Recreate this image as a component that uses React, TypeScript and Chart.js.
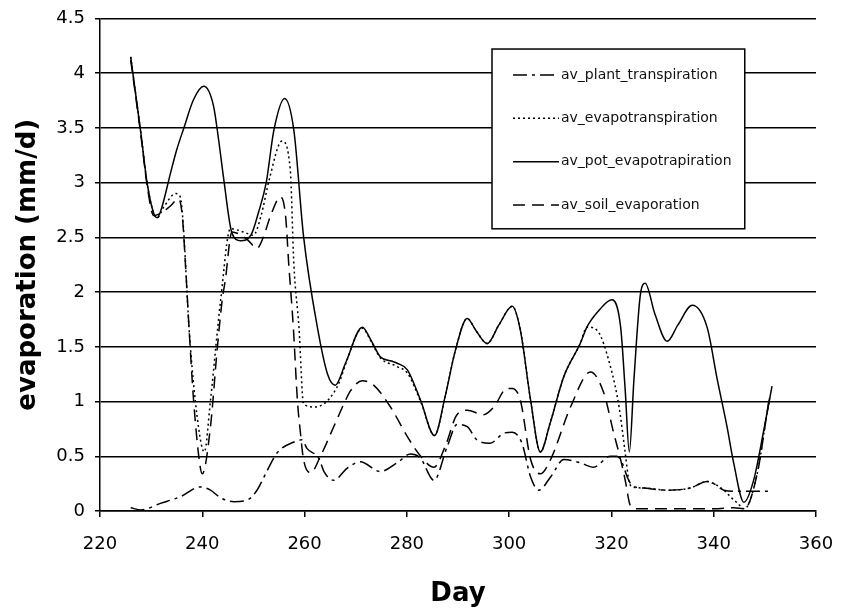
import React, { useEffect, useRef } from "react";
import { Chart, registerables } from "chart.js";

Chart.register(...registerables);

// ---- data ----
const seriesLabels = [
  "av_plant_transpiration",
  "av_evapotranspiration",
  "av_pot_evapotrapiration",
  "av_soil_evaporation",
];

const plantDays = [226, 228, 231.8, 235.7, 239.6, 241.6, 243.6, 246.2, 248.8, 250.7, 252.7, 254.6, 257.9, 259.5, 260.5, 262.8, 263.8, 265.7, 268.3, 270.9, 274.8, 278.1, 280.7, 282.7, 285.3, 287.9, 289.8, 291.8, 293.7, 296.3, 298.9, 300.6, 302.5, 304.2, 305.8, 308.1, 310.7, 313.9, 316.5, 319.8, 321.1, 322.1, 323.1, 324.1, 326.3, 330.9, 335.4, 338.7, 340, 342, 344, 350.7];
const plantValues = [0.03, 0.01, 0.07, 0.13, 0.22, 0.19, 0.12, 0.085, 0.1, 0.19, 0.37, 0.53, 0.63, 0.65, 0.57, 0.48, 0.36, 0.28, 0.39, 0.45, 0.36, 0.44, 0.52, 0.48, 0.28, 0.59, 0.79, 0.77, 0.65, 0.62, 0.71, 0.72, 0.62, 0.31, 0.19, 0.31, 0.47, 0.44, 0.4, 0.5, 0.5, 0.44, 0.31, 0.23, 0.21, 0.19, 0.21, 0.27, 0.25, 0.19, 0.18, 0.18];

const evapoDays = [226, 227, 228, 229.2, 230.5, 231.2, 232.5, 234.8, 235.7, 236.3, 237.4, 239, 240.4, 241.6, 243.6, 245.5, 248, 250, 251.5, 253.1, 255.6, 257.2, 257.9, 258.9, 259.8, 261.8, 263.8, 265.7, 267, 268, 271.3, 273, 274.8, 278.1, 280.1, 282.7, 285.4, 287.5, 289.5, 291.8, 293.5, 295.7, 298, 300.6, 302.2, 304.2, 306.1, 308, 310.7, 313.9, 315.2, 317.2, 319.8, 321.5, 322.7, 323.4, 324.1, 326.3, 330.9, 335.4, 338.7, 340, 342, 343.5, 344.7, 346, 348.5, 350.4, 351];
const evapoValues = [4.15, 3.8, 3.45, 3.0, 2.72, 2.68, 2.78, 2.9, 2.87, 2.6, 1.68, 0.86, 0.54, 1.01, 1.93, 2.58, 2.55, 2.52, 2.7, 3.03, 3.38, 3.12, 2.26, 1.68, 0.98, 0.95, 0.98, 1.08, 1.2, 1.34, 1.67, 1.55, 1.4, 1.32, 1.26, 1.0, 0.69, 1.05, 1.47, 1.76, 1.65, 1.53, 1.7, 1.87, 1.65, 1.01, 0.54, 0.8, 1.23, 1.53, 1.68, 1.65, 1.32, 0.95, 0.53, 0.28, 0.22, 0.21, 0.19, 0.21, 0.27, 0.25, 0.19, 0.12, 0.07, 0.02, 0.34, 0.89, 1.05];

const potDays = [226, 227, 228, 229.2, 230.5, 231.2, 232, 233.8, 235, 236.4, 238.3, 240.3, 242.2, 243.2, 244.2, 245.8, 247.5, 249.5, 251, 252.5, 254, 256.1, 257.9, 259.8, 262.5, 264.5, 266, 268, 271.3, 273, 274.8, 277, 278.1, 280.1, 282.7, 285.4, 287.5, 289.5, 291.8, 293.5, 295.7, 298, 300.6, 302.2, 304.2, 306.1, 308, 310.7, 313.9, 315.2, 317.5, 320.1, 321.8, 322.7, 323.5, 324.4, 325.7, 326.6, 328.5, 330.9, 333, 335.8, 338.7, 340.7, 342.6, 343.9, 345.9, 347.8, 349.8, 351.4];
const potValues = [4.15, 3.8, 3.45, 3.0, 2.72, 2.68, 2.76, 3.09, 3.3, 3.5, 3.76, 3.88, 3.7, 3.39, 3.03, 2.54, 2.47, 2.52, 2.73, 3.0, 3.48, 3.77, 3.48, 2.51, 1.68, 1.25, 1.15, 1.35, 1.68, 1.56, 1.41, 1.37, 1.35, 1.29, 1.01, 0.69, 1.05, 1.47, 1.76, 1.65, 1.53, 1.7, 1.87, 1.65, 1.01, 0.54, 0.8, 1.23, 1.53, 1.68, 1.83, 1.93, 1.68, 1.1, 0.54, 1.2, 1.99, 2.08, 1.8, 1.55, 1.7, 1.88, 1.68, 1.2, 0.77, 0.44, 0.08, 0.28, 0.74, 1.14];

const soilDays = [226, 227, 228, 229.2, 230.5, 231.8, 233.6, 235.4, 236.1, 236.7, 237.4, 238.3, 239.6, 240, 241.6, 242.9, 243.9, 244.5, 245.8, 248.8, 250.7, 252, 253.3, 255.3, 256.3, 256.9, 257.8, 258.6, 259.2, 259.8, 261.2, 263.1, 265.7, 267.7, 269, 271.3, 273.5, 276.8, 280.1, 282.7, 285.3, 287.5, 289.8, 291.8, 295, 297, 299.6, 300.6, 302.2, 304.2, 306.1, 308.1, 312, 315.9, 318.5, 320.4, 321.8, 322.7, 323.7, 325, 330, 335, 340, 344, 346, 348.5, 350.4, 351];
const soilValues = [4.12, 3.78, 3.43, 2.98, 2.7, 2.72, 2.78, 2.85, 2.69, 2.26, 1.68, 1.01, 0.4, 0.34, 0.77, 1.47, 1.93, 2.11, 2.55, 2.48, 2.4, 2.51, 2.69, 2.87, 2.69, 2.26, 1.68, 1.01, 0.71, 0.47, 0.35, 0.5, 0.77, 0.98, 1.1, 1.19, 1.15, 0.95, 0.68, 0.5, 0.4, 0.59, 0.88, 0.92, 0.88, 0.95, 1.12, 1.12, 1.01, 0.47, 0.34, 0.47, 0.95, 1.27, 1.08, 0.72, 0.47, 0.28, 0.05, 0.02, 0.02, 0.02, 0.02, 0.03, 0.02, 0.34, 0.89, 1.07];

const xMin = 220;
const xMax = 360;
const xStep = 20;
const yMin = 0;
const yMax = 4.5;
const yStep = 0.5;

const xTitle = "Day";
const yTitle = "evaporation (mm/d)";

const FONT = "'DejaVu Sans', 'Liberation Sans', sans-serif";

function toPoints(days: number[], vals: number[]) {
  return days.map((d, i) => ({ x: d, y: vals[i] }));
}

const legendPlugin = {
  id: "boxLegend",
  afterDraw(chart: any) {
    const { ctx, chartArea } = chart;
    const w = chartArea.right - chartArea.left;
    const h = chartArea.bottom - chartArea.top;
    const bx = chartArea.left + 0.5475 * w;
    const by = chartArea.top + 0.062 * h;
    const bw = 0.353 * w;
    const bh = 0.365 * h;
    ctx.save();
    ctx.fillStyle = "#ffffff";
    ctx.fillRect(bx, by, bw, bh);
    ctx.strokeStyle = "#000";
    ctx.lineWidth = 1.5;
    ctx.strokeRect(bx, by, bw, bh);
    ctx.font = `14px ${FONT}`;
    ctx.textBaseline = "middle";
    ctx.textAlign = "left";
    chart.data.datasets.forEach((ds: any, i: number) => {
      const ry = chartArea.top + (0.1147 + i * 0.088) * h;
      ctx.beginPath();
      ctx.setLineDash(ds.borderDash || []);
      ctx.lineWidth = 1.5;
      ctx.strokeStyle = "#000";
      ctx.moveTo(bx + 21, ry);
      ctx.lineTo(bx + 67, ry);
      ctx.stroke();
      ctx.setLineDash([]);
      ctx.fillStyle = "#111";
      ctx.fillText(ds.label, bx + 69, ry);
    });
    ctx.restore();
  },
};

export default function App() {
  const canvasRef = useRef<HTMLCanvasElement | null>(null);

  useEffect(() => {
    const canvas = canvasRef.current;
    if (!canvas) return;
    const common = {
      borderColor: "#000",
      borderWidth: 1.5,
      pointRadius: 0,
      fill: false,
      cubicInterpolationMode: "monotone" as const,
    };
    const chart = new Chart(canvas, {
      type: "line",
      data: {
        datasets: [
          { ...common, label: seriesLabels[0], data: toPoints(plantDays, plantValues), borderDash: [14, 5, 3, 5] },
          { ...common, label: seriesLabels[1], data: toPoints(evapoDays, evapoValues), borderDash: [2, 3] },
          { ...common, label: seriesLabels[2], data: toPoints(potDays, potValues), borderDash: [] },
          { ...common, label: seriesLabels[3], data: toPoints(soilDays, soilValues), borderDash: [12, 7] },
        ],
      },
      options: {
        responsive: false,
        animation: false,
        layout: { padding: { top: 18.5, right: 29, left: 0, bottom: 0 } },
        plugins: {
          legend: { display: false },
          tooltip: { enabled: false },
        },
        scales: {
          x: {
            type: "linear",
            min: xMin,
            max: xMax,
            afterFit: (s: any) => {
              s.height = 99;
              s.paddingLeft = 0;
              s.paddingRight = 0;
            },
            ticks: {
              stepSize: xStep,
              color: "#000",
              padding: 17,
              font: { family: FONT, size: 18 },
              maxRotation: 0,
            },
            grid: {
              display: true,
              drawOnChartArea: false,
              drawTicks: true,
              tickLength: 6,
              color: "#000",
              lineWidth: 1.5,
            },
            border: { display: true, color: "#000", width: 1.5 },
            title: {
              display: true,
              text: xTitle,
              color: "#000",
              font: { family: FONT, size: 26, weight: "bold" },
              padding: { top: 0, bottom: 0 },
            },
          },
          y: {
            type: "linear",
            min: yMin,
            max: yMax,
            afterFit: (s: any) => {
              s.width = 100;
              s.paddingTop = 0;
              s.paddingBottom = 0;
            },
            ticks: {
              stepSize: yStep,
              color: "#000",
              padding: 10,
              font: { family: FONT, size: 18 },
              callback: (v: any) => String(v),
            },
            grid: {
              display: true,
              drawTicks: true,
              tickLength: 5,
              color: "#000",
              lineWidth: 1.5,
            },
            border: { display: true, color: "#000", width: 1.5 },
            title: {
              display: true,
              text: yTitle,
              color: "#000",
              font: { family: FONT, size: 26, weight: "bold" },
              padding: { top: 13, bottom: 0 },
            },
          },
        },
      },
      plugins: [legendPlugin],
    });
    return () => chart.destroy();
  }, []);

  return (
    <div style={{ position: "fixed", left: 0, top: 0, width: 845, height: 610, background: "#fff" }}>
      <canvas ref={canvasRef} width={845} height={610} style={{ display: "block" }} />
    </div>
  );
}
